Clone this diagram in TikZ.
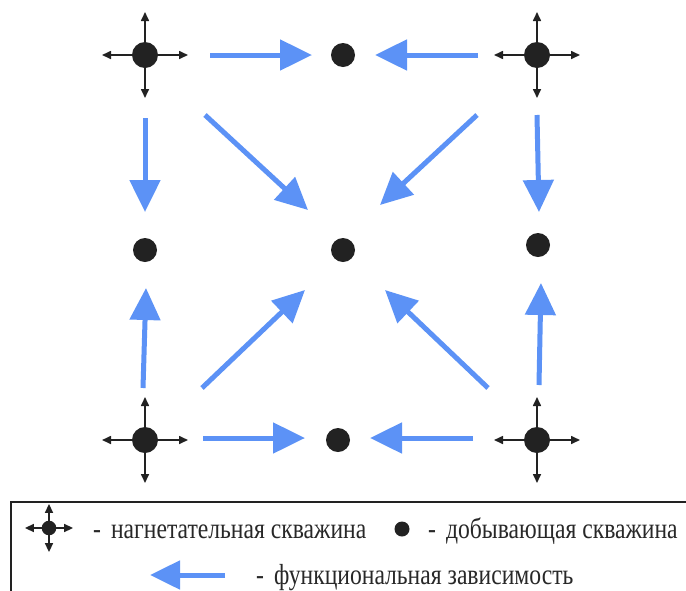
\documentclass[tikz,border=0pt]{standalone}
\usepackage{fontspec}
\setmainfont{Liberation Serif}
\newfontfamily\legendfont[FakeStretch=0.815]{Liberation Serif}
\usetikzlibrary{arrows.meta,calc}
\definecolor{flowblue}{RGB}{92,146,246}
\definecolor{well}{RGB}{34,34,34}
\definecolor{legendink}{RGB}{40,40,40}
\tikzset{
  flow/.style={draw=flowblue, line width=5pt, -{Triangle[width=30pt,length=32pt]}},
  prod/.style={circle, fill=well, inner sep=0pt, minimum size=24pt},
  injdot/.style={circle, fill=well, inner sep=0pt, minimum size=26pt},
  spoke/.style={draw=well, line width=1.6pt, -{Triangle[width=8pt,length=9pt]}},
  legtext/.style={font=\legendfont\fontsize{29}{31}\selectfont, text=legendink,
                  anchor=base west, inner sep=0pt}
}
% injection well: dot with four outward arrows; #3 scales the symbol
\newcommand{\injwell}[3]{%
  \node[injdot, minimum size=#3*26pt] (#1) at (#2) {};
  \draw[spoke] (#1.center) -- ++(0,#3*43);
  \draw[spoke] (#1.center) -- ++(0,-#3*43);
  \draw[spoke] (#1.center) -- ++(#3*43,0);
  \draw[spoke] (#1.center) -- ++(-#3*43,0);
}
\begin{document}
\begin{tikzpicture}[x=1pt,y=-1pt]
\useasboundingbox (0,0) rectangle (686,590);
\fill[white] (0,0) rectangle (686,590);

% injection wells
\injwell{iTL}{145,55}{1}
\injwell{iTR}{537,55}{1}
\injwell{iBL}{145,440}{1}
\injwell{iBR}{537,440}{1}

% production wells
\node[prod] (pT) at (343,55) {};
\node[prod] (pL) at (145,250) {};
\node[prod] (pC) at (343,250) {};
\node[prod] (pR) at (538,245) {};
\node[prod] (pB) at (338,440) {};

% functional dependence arrows, injector -> producer
\draw[flow] ($(iTL)+(65,0)$) -- ($(pT)+(-31,0)$);
\draw[flow] ($(iTR)+(-59,0)$) -- ($(pT)+(32,0)$);
\draw[flow] ($(iBL)+(58,-2)$) -- ($(pB)+(-33,-2)$);
\draw[flow] ($(iBR)+(-64,-2)$) -- ($(pB)+(32,-2)$);
\draw[flow] ($(iTL)+(0,63)$) -- ($(pL)+(0,-38)$);
\draw[flow] ($(iBL)+(-2,-52)$) -- ($(pL)+(1,38)$);
\draw[flow] ($(iTR)+(0,60)$) -- ($(pR)+(1,-33)$);
\draw[flow] ($(iBR)+(2,-55)$) -- ($(pR)+(3,38)$);
\draw[flow] ($(iTL)+(60,60)$) -- ($(pC)+(-35,-40)$);
\draw[flow] ($(iTR)+(-60,60)$) -- ($(pC)+(37,-45)$);
\draw[flow] ($(iBL)+(57,-52)$) -- ($(pC)+(-38,40)$);
\draw[flow] ($(iBR)+(-49,-52)$) -- ($(pC)+(42,40)$);

% legend frame (runs past the right and bottom edges)
\begin{scope}
  \clip (0,0) rectangle (686,590);
  \draw[line width=1.4pt, draw=well] (11,502) rectangle (720,640);
\end{scope}
\injwell{lInj}{49,528}{0.56}
\node[legtext] (lInjT) at (93,538) {-\hspace{10pt}нагнетательная скважина};
\node[prod, minimum size=15pt] (lProd) at (402,529) {};
\node[legtext] (lProdT) at (428,538) {-\hspace{10pt}добывающая скважина};
\coordinate (lArrS) at (225,575);
\coordinate (lArrE) at (150,575);
\draw[flow, -{Triangle[width=28pt,length=30pt]}] (lArrS) -- (lArrE);
\node[legtext] (lArrT) at (256,584) {-\hspace{10pt}функциональная зависимость};
\end{tikzpicture}
\end{document}
